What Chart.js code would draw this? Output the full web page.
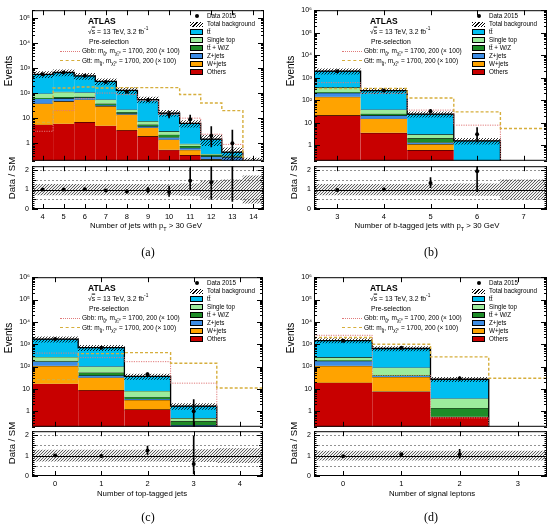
<!DOCTYPE html>
<html>
<head>
<meta charset="utf-8">
<script src="https://cdn.jsdelivr.net/npm/chart.js@4.4.1/dist/chart.umd.min.js"></script>
<style>
  body { margin: 0; width: 552px; height: 528px; position: relative; overflow: hidden; background: #fff;
         font-family: "Liberation Sans", Arial, sans-serif; }
  canvas { position: absolute; }
  .t { position: absolute; white-space: nowrap; line-height: 1; color: #000; }
  .c { transform: translate(-50%, -50%); }
  .l { transform: translateY(-50%); }
  .r { transform: translate(-50%, -50%) rotate(-90deg); }
  .sw { position: absolute; box-sizing: border-box; }
  sub, sup { font-size: 70%; line-height: 0; }
</style>
</head>
<body>
<script>
// (a) number of jets with pT > 30 GeV
const jetBins = [4, 5, 6, 7, 8, 9, 10, 11, 12, 13, 14];
const jetOthers = [5.5, 6, 7, 5, 3.3, 1.9, 0.55, 0.34, 0.1, 0.03, 0];
const jetWjets = [32.5, 41, 48, 25, 10.7, 2.3, 0.85, 0.21, 0.13, 0.05, 0];
const jetZjets = [22, 15, 12, 3, 1.5, 0.6, 0.3, 0.1, 0.07, 0.2, 0.02];
const jetTtV = [5, 7, 5, 5, 1.5, 0.8, 0.5, 0.13, 0.04, 0.02, 0];
const jetSingleTop = [30, 43, 33, 17, 5, 2, 0.8, 0.17, 0.03, 0.02, 0.01];
const jetTtbar = [465, 548, 375, 235, 105, 47.4, 13, 5.25, 1.08, 0.12, 0.12];
const jetData = [560, 665, 490, 275, 114, 53, 14, 9, 2, 1, 0];
const jetGbb = [3, 20, 60, 100, 87, 50, 14, 10, 2.3, 0.9, 0];
const jetGtt = [6.8, 160, 175, 160, 165, 165, 165, 87, 40, 20, 0];
const jetUnc = [0.27, 0.27, 0.27, 0.27, 0.27, 0.27, 0.27, 0.3, 0.45, 0.5, 0.7];

// (b) number of b-tagged jets
const btagBins = [3, 4, 5, 6, 7];
const btagOthers = [21, 3.5, 0.6, 0.01, 0];
const btagWjets = [120, 11.5, 0.5, 0, 0];
const btagZjets = [69, 6, 0.2, 0.01, 0];
const btagTtV = [15, 4, 0.7, 0.03, 0];
const btagSingleTop = [145, 13, 1.0, 0.05, 0];
const btagTtbar = [1580, 227, 21, 1.45, 0];
const btagData = [1910, 266, 32, 3, 0];
const btagGbb = [600, 200, 36, 7.7, 0];
const btagGtt = [330, 330, 125, 30, 5.5];
const btagUnc = [0.27, 0.27, 0.27, 0.3, 0.5];

// (c) number of top-tagged jets
const topBins = [0, 1, 2, 3, 4];
const topOthers = [17, 8.7, 1.2, 0.05, 0];
const topWjets = [90, 23.3, 2.0, 0.05, 0];
const topZjets = [61, 8, 0.3, 0.14, 0];
const topTtV = [12, 14, 0.9, 0.11, 0];
const topSingleTop = [90, 46, 3.7, 0.14, 0];
const topTtbar = [1410, 600, 27.9, 1.21, 0];
const topData = [1690, 688, 45, 1, 0];
const topGbb = [400, 250, 165, 18, 0];
const topGtt = [26, 380, 420, 140, 11];
const topUnc = [0.27, 0.27, 0.27, 0.3, 0.35];

// (d) number of signal leptons
const lepBins = [0, 1, 2, 3];
const lepOthers = [19, 7.6, 0.56, 0];
const lepWjets = [88, 26.4, 0, 0];
const lepZjets = [73, 4, 0, 0];
const lepTtV = [10, 4, 0.8, 0];
const lepSingleTop = [70, 48, 2.34, 0];
const lepTtbar = [1190, 550, 23.3, 0];
const lepData = [1410, 685, 29, 0];
const lepGbb = [2500, 40, 0.5, 0];
const lepGtt = [2000, 1000, 270, 30];
const lepUnc = [0.22, 0.22, 0.22, 0.22];

const stackColors = ['#c80000', '#ffa300', '#3d8de6', '#1e8c28', '#9cec9c', '#00bef0'];
const legendNames = ['tt&#772;', 'Single top', 'tt&#772; + W/Z', 'Z+jets', 'W+jets', 'Others'];
const legendColors = ['#00bef0', '#9cec9c', '#1e8c28', '#3d8de6', '#ffa300', '#c80000'];
const decadeLabels = { 1: '1', 10: '10', 100: '10²', 1000: '10³', 10000: '10⁴', 100000: '10⁵', 1000000: '10⁶' };
const FLOOR = 1e-3;

Chart.defaults.font.family = '"Liberation Sans", Arial, sans-serif';
Chart.defaults.color = '#000';
Chart.defaults.animation = false;

function hatch(color, bg) {
  const c = document.createElement('canvas');
  c.width = 3; c.height = 3;
  const g = c.getContext('2d');
  if (bg) { g.fillStyle = bg; g.fillRect(0, 0, 3, 3); }
  g.strokeStyle = color;
  g.lineWidth = 0.8;
  g.beginPath();
  g.moveTo(0, 3); g.lineTo(3, 0);
  g.moveTo(-1, 1); g.lineTo(1, -1);
  g.moveTo(2, 4); g.lineTo(4, 2);
  g.stroke();
  return g.createPattern(c, 'repeat');
}

function gehrelsLow(n) { return n * Math.pow(1 - 1 / (9 * n) - 1 / (3 * Math.sqrt(n)), 3); }
function gehrelsHigh(n) { return n + Math.sqrt(n + 0.75) + 1; }

function steps(bins, vals) {
  const pts = bins.map((b, i) => ({ x: b - 0.5, y: vals[i] > 0 ? vals[i] : FLOOR }));
  pts.push({ x: bins[bins.length - 1] + 0.5, y: pts[pts.length - 1].y });
  return pts;
}

const framePlugin = {
  id: 'frame',
  beforeDatasetsDraw(chart, args, opts) {
    if (!opts.refLines) return;
    const { ctx, chartArea: a, scales: { y } } = chart;
    ctx.save();
    ctx.setLineDash([2, 2]);
    ctx.strokeStyle = '#777';
    ctx.lineWidth = 0.8;
    for (const v of opts.refLines) {
      const py = Math.round(y.getPixelForValue(v)) + 0.5;
      ctx.beginPath(); ctx.moveTo(a.left, py); ctx.lineTo(a.right, py); ctx.stroke();
    }
    ctx.restore();
  },
  afterDatasetsDraw(chart, args, opts) {
    const { ctx, chartArea: a, scales: { x, y } } = chart;
    ctx.save();
    ctx.strokeStyle = '#000';
    ctx.lineWidth = 1;
    if (opts.unitLine) {
      const py = Math.round(y.getPixelForValue(1)) + 0.5;
      ctx.beginPath(); ctx.moveTo(a.left, py); ctx.lineTo(a.right, py); ctx.stroke();
    }
    ctx.beginPath();
    for (const v of opts.xTicks) {
      const px = Math.round(x.getPixelForValue(v)) + 0.5;
      ctx.moveTo(px, a.bottom); ctx.lineTo(px, a.bottom - 5);
      ctx.moveTo(px, a.top); ctx.lineTo(px, a.top + 5);
    }
    const yt = [];
    if (y.type === 'logarithmic') {
      for (let e = Math.floor(Math.log10(y.min)); e <= Math.ceil(Math.log10(y.max)); e++) {
        for (let k = 1; k <= 9; k++) {
          const v = k * Math.pow(10, e);
          if (v >= y.min && v <= y.max) yt.push([v, k === 1 ? 6 : 3]);
        }
      }
    } else {
      for (let i = 0; i <= Math.round(y.max * 10); i++) {
        yt.push([i / 10, i % 10 === 0 ? 6 : (i % 5 === 0 ? 4 : 2.5)]);
      }
    }
    for (const [v, len] of yt) {
      const py = Math.round(y.getPixelForValue(v)) + 0.5;
      ctx.moveTo(a.left, py); ctx.lineTo(a.left + len, py);
      ctx.moveTo(a.right, py); ctx.lineTo(a.right - len, py);
    }
    ctx.stroke();
    ctx.strokeRect(a.left + 0.5, a.top + 0.5, a.width - 1, a.height - 1);
    ctx.restore();
  }
};

function makeChart(left, top, width, height, config) {
  const cv = document.createElement('canvas');
  cv.width = width; cv.height = height;
  cv.style.left = left + 'px'; cv.style.top = top + 'px';
  document.body.appendChild(cv);
  return new Chart(cv, config);
}

function addText(html, x, y, cls, css) {
  const d = document.createElement('div');
  d.className = 't ' + cls;
  d.innerHTML = html;
  d.style.left = x + 'px';
  d.style.top = y + 'px';
  Object.assign(d.style, css || {});
  document.body.appendChild(d);
  return d;
}

function addBox(x, y, w, h, css) {
  const d = document.createElement('div');
  d.className = 'sw';
  Object.assign(d.style, { left: x + 'px', top: y + 'px', width: w + 'px', height: h + 'px' }, css);
  document.body.appendChild(d);
}

const fullWidth = { barPercentage: 1, categoryPercentage: 1 };

function drawPanel(p) {
  const n = p.bins.length;
  const xmin = p.bins[0] - 0.5, xmax = p.bins[n - 1] + 0.5;
  const comps = [p.others, p.wjets, p.zjets, p.ttv, p.singleTop, p.ttbar];
  const totals = new Array(n).fill(0);
  const mainSets = comps.map((vals, k) => {
    const data = [];
    p.bins.forEach((b, i) => {
      const lo = totals[i];
      totals[i] += vals[i];
      if (vals[i] > 0) data.push({ x: b, y: [Math.max(lo, FLOOR), totals[i]] });
    });
    return Object.assign({
      type: 'bar', data, backgroundColor: stackColors[k], borderColor: '#000',
      borderWidth: { top: 0.7, left: 0, right: 0, bottom: 0 }, borderSkipped: false, order: 20 - k
    }, fullWidth);
  });
  const bandMain = [], bandRatio = [], errMain = [], ptsMain = [], errRatio = [], ptsRatio = [];
  p.bins.forEach((b, i) => {
    const t = totals[i], u = p.unc[i], d = p.data[i];
    if (t > 0) bandMain.push({ x: b, y: [Math.max(t * (1 - u), FLOOR), t * (1 + u)] });
    bandRatio.push({ x: b, y: [1 - u, 1 + u] });
    if (d > 0) {
      const lo = gehrelsLow(d), hi = gehrelsHigh(d);
      ptsMain.push({ x: b, y: d });
      errMain.push({ x: b, y: [Math.max(lo, FLOOR), hi] });
      if (t > 0) {
        ptsRatio.push({ x: b, y: d / t });
        errRatio.push({ x: b, y: [lo / t, hi / t] });
      }
    }
  });
  mainSets.push(
    Object.assign({ type: 'bar', data: bandMain, backgroundColor: hatch('#000'), borderWidth: 0, order: 6 }, fullWidth),
    { type: 'line', data: steps(p.bins, totals), stepped: true, borderColor: '#000', borderWidth: 1.3, pointRadius: 0, order: 5 },
    { type: 'line', data: steps(p.bins, p.gbb), stepped: true, borderColor: '#e07a7a', borderWidth: 1, borderDash: [1.2, 1.2], pointRadius: 0, order: 4 },
    { type: 'line', data: steps(p.bins, p.gtt), stepped: true, borderColor: '#d6ae3c', borderWidth: 1.4, borderDash: [3, 2], pointRadius: 0, order: 3 },
    { type: 'bar', data: errMain, backgroundColor: '#000', barThickness: 1, order: 2 },
    { type: 'line', data: ptsMain, showLine: false, pointRadius: 2, pointBackgroundColor: '#000', pointBorderWidth: 0, order: 1 }
  );

  const f = p.frame;
  const yw = 30;
  const xScale = {
    type: 'linear', min: xmin, max: xmax, offset: false, stacked: true,
    grid: { display: false, drawTicks: false }, border: { display: false }
  };
  makeChart(f.l - yw, f.t - 6, f.r - f.l + yw + 2, f.b - f.t + 12, {
    type: 'bar',
    data: { datasets: mainSets },
    options: {
      responsive: false,
      layout: { padding: { top: 6, bottom: 6, right: 2, left: 0 } },
      plugins: { legend: { display: false }, tooltip: { enabled: false }, frame: { xTicks: p.bins } },
      scales: {
        x: Object.assign({}, xScale, { display: false }),
        y: {
          type: 'logarithmic', min: 0.2, max: p.ymax, stacked: false,
          grid: { display: false, drawTicks: false }, border: { display: false },
          ticks: { font: { size: 7 }, padding: 2, callback: v => decadeLabels[v] || '' },
          afterBuildTicks: s => { s.ticks = Object.keys(decadeLabels).map(Number).filter(v => v >= s.min && v <= s.max).map(v => ({ value: v })); },
          afterFit: s => { s.width = yw; }
        }
      }
    },
    plugins: [framePlugin]
  });

  makeChart(f.l - yw, f.rt - 6, f.r - f.l + yw + 2, f.rb - f.rt + 6 + 14, {
    type: 'bar',
    data: {
      datasets: [
        Object.assign({ type: 'bar', data: bandRatio, backgroundColor: hatch('#3a3a3a', 'rgba(0,0,0,0.06)'), borderWidth: 0, order: 3 }, fullWidth),
        { type: 'bar', data: errRatio, backgroundColor: '#000', barThickness: 1, order: 2 },
        { type: 'line', data: ptsRatio, showLine: false, pointRadius: 2, pointBackgroundColor: '#000', pointBorderWidth: 0, order: 1 }
      ]
    },
    options: {
      responsive: false,
      layout: { padding: { top: 6, bottom: 0, right: 2, left: 0 } },
      plugins: { legend: { display: false }, tooltip: { enabled: false }, frame: { xTicks: p.bins, refLines: [0.5, 1.5, 2], unitLine: true } },
      scales: {
        x: Object.assign({}, xScale, {
          ticks: { font: { size: 7.5 }, padding: 3, maxRotation: 0, autoSkip: false },
          afterBuildTicks: s => { s.ticks = p.bins.map(v => ({ value: v })); },
          afterFit: s => { s.height = 14; }
        }),
        y: {
          type: 'linear', min: 0, max: 2.2,
          grid: { display: false, drawTicks: false }, border: { display: false },
          ticks: { font: { size: 7 }, padding: 3 },
          afterBuildTicks: s => { s.ticks = [0, 1, 2].map(v => ({ value: v })); },
          afterFit: s => { s.width = yw; }
        }
      }
    },
    plugins: [framePlugin]
  });

  // axis titles and panel tag
  addText('Events', f.l - 23, f.t + 61, 'r', { fontSize: '10px' });
  addText('Data / SM', f.l - 20, f.rt + 13, 'r', { fontSize: '9.5px' });
  addText(p.xTitle, p.xTitlePos[0], p.xTitlePos[1], 'c', { fontSize: '7.8px' });
  addText(p.tag, p.tagPos[0], p.tagPos[1], 'c', { fontSize: '12px', fontFamily: '"Liberation Serif", "DejaVu Serif", serif' });

  // text block on the left of the legend
  addText('ATLAS', f.l + 56, f.t + 10.5, 'l', { fontSize: '8.5px', fontWeight: 'bold' });
  addText('&radic;<span style="text-decoration:overline">s</span> = 13 TeV, 3.2 fb<sup>-1</sup>', f.l + 56, f.t + 22, 'l', { fontSize: '6.8px' });
  addText('Pre-selection', f.l + 57, f.t + 31.7, 'l', { fontSize: '6.8px' });
  addBox(f.l + 28, f.t + 40.5, 20, 1, { borderTop: '1px dotted #e07a7a' });
  addText('Gbb: m<sub>g&#771;</sub>, m<sub>&chi;&#771;&#8321;&#8304;</sub> = 1700, 200 (&times; 100)', f.l + 50, f.t + 41, 'l', { fontSize: '6.5px' });
  addBox(f.l + 28, f.t + 50.3, 20, 1.5, { borderTop: '1.5px dashed #d6ae3c' });
  addText('Gtt: m<sub>g&#771;</sub>, m<sub>&chi;&#771;&#8321;&#8304;</sub> = 1700, 200 (&times; 100)', f.l + 50, f.t + 51, 'l', { fontSize: '6.5px' });

  // legend on the right
  const lx = f.l + 158, tx = f.l + 175;
  addBox(lx + 4.5, f.t + 4, 4, 4, { borderRadius: '50%', background: '#000' });
  addText('Data 2015', tx, f.t + 6, 'l', { fontSize: '6.3px' });
  addBox(lx, f.t + 11.5, 13, 5, { background: 'repeating-linear-gradient(135deg, #000 0 0.9px, #fff 0.9px 2.4px)' });
  addText('Total background', tx, f.t + 14, 'l', { fontSize: '6.3px' });
  legendNames.forEach((name, i) => {
    const cy = f.t + 22 + 8 * i;
    addBox(lx, cy - 2.75, 13, 5.5, { background: legendColors[i], border: '0.6px solid #000' });
    addText(name, tx, cy, 'l', { fontSize: '6.3px' });
  });
}

const panels = [
  {
    bins: jetBins, others: jetOthers, wjets: jetWjets, zjets: jetZjets, ttv: jetTtV, singleTop: jetSingleTop, ttbar: jetTtbar,
    data: jetData, gbb: jetGbb, gtt: jetGtt, unc: jetUnc, ymax: 2e5,
    frame: { l: 32, r: 266, t: 10, b: 161, rt: 165, rb: 209 },
    xTitle: 'Number of jets with p<sub>T</sub> &gt; 30 GeV', xTitlePos: [146, 226], tag: '(a)', tagPos: [148, 252]
  },
  {
    bins: btagBins, others: btagOthers, wjets: btagWjets, zjets: btagZjets, ttv: btagTtV, singleTop: btagSingleTop, ttbar: btagTtbar,
    data: btagData, gbb: btagGbb, gtt: btagGtt, unc: btagUnc, ymax: 1e6,
    frame: { l: 314, r: 549, t: 10, b: 161, rt: 165, rb: 209 },
    xTitle: 'Number of b-tagged jets with p<sub>T</sub> &gt; 30 GeV', xTitlePos: [427, 226], tag: '(b)', tagPos: [431, 252]
  },
  {
    bins: topBins, others: topOthers, wjets: topWjets, zjets: topZjets, ttv: topTtV, singleTop: topSingleTop, ttbar: topTtbar,
    data: topData, gbb: topGbb, gtt: topGtt, unc: topUnc, ymax: 1e6,
    frame: { l: 32, r: 265, t: 277, b: 427, rt: 430, rb: 476 },
    xTitle: 'Number of top-tagged jets', xTitlePos: [142, 494], tag: '(c)', tagPos: [148, 517]
  },
  {
    bins: lepBins, others: lepOthers, wjets: lepWjets, zjets: lepZjets, ttv: lepTtV, singleTop: lepSingleTop, ttbar: lepTtbar,
    data: lepData, gbb: lepGbb, gtt: lepGtt, unc: lepUnc, ymax: 1e6,
    frame: { l: 314, r: 549, t: 277, b: 427, rt: 430, rb: 476 },
    xTitle: 'Number of signal leptons', xTitlePos: [432, 494], tag: '(d)', tagPos: [431, 517]
  }
];

panels.forEach(drawPanel);
</script>
</body>
</html>
